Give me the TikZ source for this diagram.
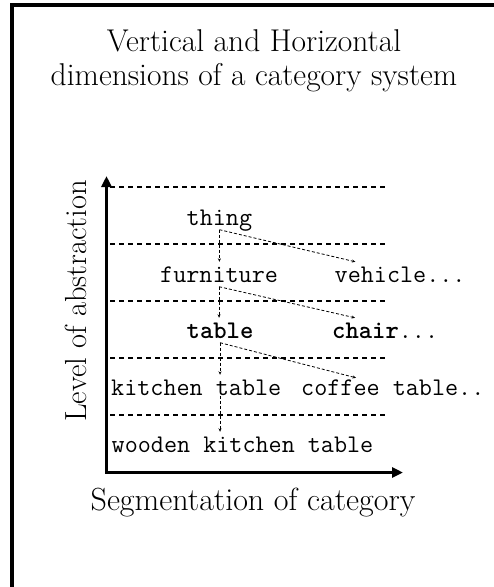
\documentclass[tikz,border=0pt]{standalone}
\usepackage{fontspec}
\usetikzlibrary{arrows.meta, calc}

\tikzset{
  cat/.style={font=\fontsize{25.4}{28}\selectfont\ttfamily, inner sep=0pt,
    text height=13pt, text depth=4.5pt, anchor=base west},
  level/.style={dash pattern=on 5pt off 4pt, line width=1.2pt},
  link/.style={dash pattern=on 3pt off 2pt, line width=0.8pt,
    -{Stealth[length=3.5pt,width=3pt]}},
  axis/.style={line width=3pt},
  bigtext/.style={font=\fontsize{31.5}{34}\selectfont, inner sep=0pt}
}

\begin{document}
\begin{tikzpicture}[x=1pt,y=-1pt]
\useasboundingbox (0,0) rectangle (494,587);
% frame, only top and left edges are in view
\draw[line width=4pt] (494,5) -- (12,5) -- (12,587);

\node[bigtext, align=center, anchor=north] (title) at (254,29.5)
  {Vertical and Horizontal\\dimensions of a category system};

% level separators
\foreach \y in {187,244,301,358,415}
  \draw[level] (110,\y) -- (387,\y);

% axes
\coordinate (vtop) at (106.5,176);
\coordinate (origin) at (106.5,472.5);
\coordinate (hend) at (403,472.5);
\draw[axis, {Triangle[length=11pt,width=10pt]}-{Triangle[length=11pt,width=10pt]}] (vtop) -- (origin) -- (hend);

\node[bigtext, font=\fontsize{30.5}{30}\selectfont, rotate=90, anchor=base] (ylabel) at (86,301) {Level of abstraction};
\node[bigtext, font=\fontsize{32}{30}\selectfont, anchor=base] (xlabel) at (253,510) {Segmentation of category};

% categories, one row per level
\node[cat] (thing) at (186.5,225) {thing};
\node[cat] (furniture) at (160,282) {furniture};
\node[cat] (vehicle) at (334.5,282) {vehicle...};
\node[cat] (table) at (186.5,338) {\textbf{table}};
\node[cat] (chair) at (332,338) {\textbf{chair}...};
\node[cat] (kitchen) at (111,395) {kitchen table};
\node[cat] (coffee) at (301,395) {coffee table..};
\node[cat] (wooden) at (111.5,452) {wooden kitchen table};

% links between levels
\draw[link] (thing.south) -- ($(thing.south |- furniture.north)+(0,-7)$);
\draw[link] (thing.south) -- ($(thing.south |- vehicle.north)+(136,-7)$);
\draw[link] (furniture.south) -- ($(furniture.south |- table.north)+(0,-7)$);
\draw[link] (furniture.south) -- ($(furniture.south |- chair.north)+(136,-7)$);
\draw[link] (table.south) -- ($(table.south |- kitchen.north)+(0,-7)$);
\draw[link] (table.south) -- ($(table.south |- coffee.north)+(136,-4)$);
\draw[link] (table.south |- kitchen.center) -- ($(table.south |- wooden.north)+(0,-7)$);
\end{tikzpicture}
\end{document}
